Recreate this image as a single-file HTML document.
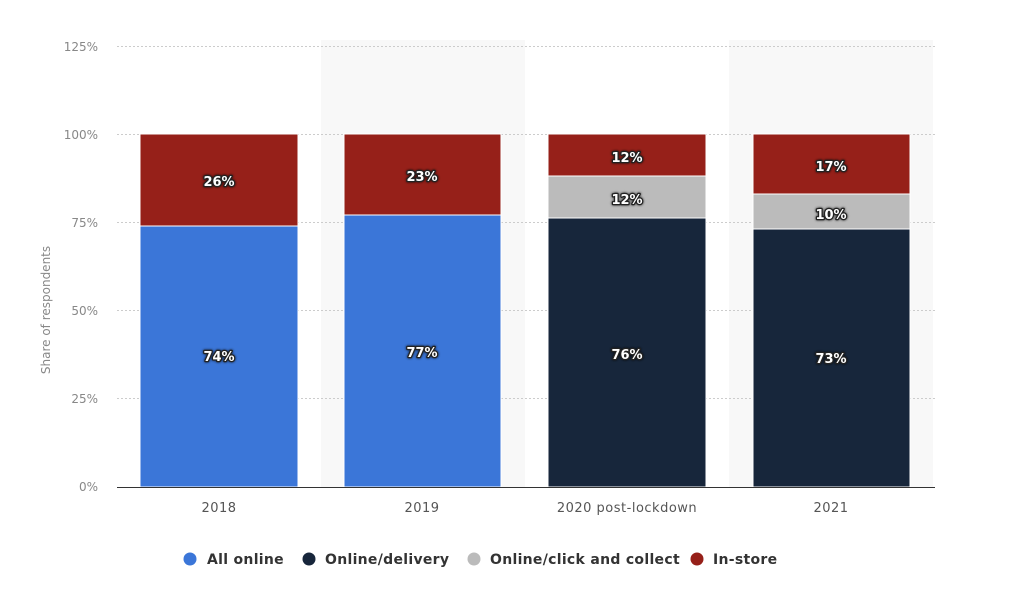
<!DOCTYPE html>
<html><head><meta charset="utf-8"><style>
body{margin:0;background:#fff;}
svg{display:block;font-family:"DejaVu Sans","Liberation Sans",sans-serif;}
.l{font-size:13px;font-weight:bold;fill:#fff;text-anchor:middle;paint-order:stroke;stroke:#222;stroke-width:2.5px;stroke-linejoin:round;}
.t{font-size:12px;fill:#888;}
</style></head><body>
<svg width="1024" height="606" viewBox="0 0 1024 606">
<defs><filter id="s"><feDropShadow dx="0" dy="0" stdDeviation="1.2" flood-color="#000" flood-opacity="0.8"/></filter></defs>
<rect x="321" y="40" width="204" height="447" fill="#f8f8f8"/>
<rect x="729" y="40" width="204" height="447" fill="#f8f8f8"/>
<g stroke="#ccc" stroke-dasharray="2,2" stroke-width="1">
<line x1="117" x2="935" y1="46.5" y2="46.5"/>
<line x1="117" x2="935" y1="134.5" y2="134.5"/>
<line x1="117" x2="935" y1="222.5" y2="222.5"/>
<line x1="117" x2="935" y1="310.5" y2="310.5"/>
<line x1="117" x2="935" y1="398.5" y2="398.5"/>
</g>
<g class="t" text-anchor="end">
<text x="98" y="51">125%</text><text x="98" y="139">100%</text><text x="98" y="227">75%</text>
<text x="98" y="315">50%</text><text x="98" y="403">25%</text><text x="98" y="491">0%</text>
</g>
<text class="t" transform="translate(50,310) rotate(-90)" text-anchor="middle">Share of respondents</text>
<g stroke="#fff" stroke-width="1">
<rect x="140" y="134" width="158" height="92" fill="#962019"/>
<rect x="140" y="226" width="158" height="261" fill="#3b76d8"/>
<rect x="344" y="134" width="157" height="81" fill="#962019"/>
<rect x="344" y="215" width="157" height="272" fill="#3b76d8"/>
<rect x="548" y="134" width="158" height="42" fill="#962019"/>
<rect x="548" y="176" width="158" height="42" fill="#bbbbbb"/>
<rect x="548" y="218" width="158" height="269" fill="#17263b"/>
<rect x="753" y="134" width="157" height="60" fill="#962019"/>
<rect x="753" y="194" width="157" height="35" fill="#bbbbbb"/>
<rect x="753" y="229" width="157" height="258" fill="#17263b"/>
</g>
<line x1="117" x2="935" y1="487.5" y2="487.5" stroke="#333"/>
<g class="l" filter="url(#s)">
<text x="219" y="186">26%</text><text x="219" y="361">74%</text>
<text x="422" y="181">23%</text><text x="422" y="357">77%</text>
<text x="627" y="162">12%</text><text x="627" y="204">12%</text><text x="627" y="359">76%</text>
<text x="831" y="171">17%</text><text x="831" y="219">10%</text><text x="831" y="363">73%</text>
</g>
<g font-size="13" fill="#555" text-anchor="middle" letter-spacing="0.5">
<text x="219" y="512">2018</text><text x="422" y="512">2019</text>
<text x="627" y="512">2020 post-lockdown</text><text x="831" y="512">2021</text>
</g>
<g font-size="14" font-weight="bold" fill="#333" letter-spacing="0.3">
<circle cx="190" cy="559" r="6.5" fill="#3b76d8"/><text x="207" y="564">All online</text>
<circle cx="309" cy="559" r="6.5" fill="#17263b"/><text x="325" y="564">Online/delivery</text>
<circle cx="474" cy="559" r="6.5" fill="#bbbbbb"/><text x="490" y="564">Online/click and collect</text>
<circle cx="697" cy="559" r="6.5" fill="#962019"/><text x="713" y="564">In-store</text>
</g>
</svg>
</body></html>
